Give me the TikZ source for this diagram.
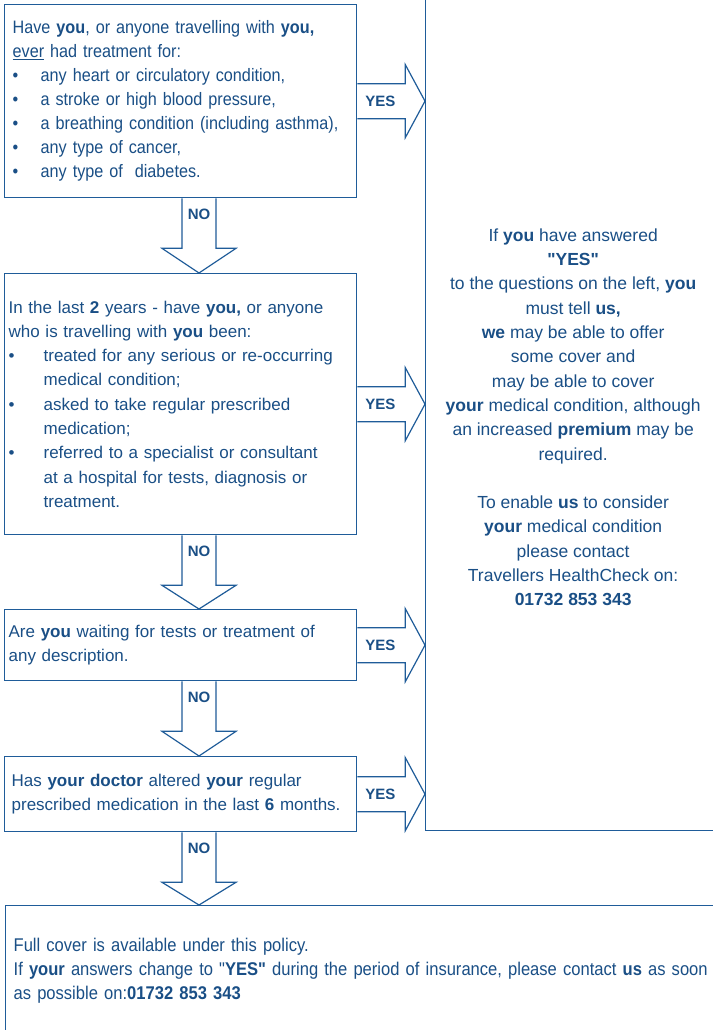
\documentclass[tikz,border=0pt]{standalone}
\usepackage{fontspec}
\setmainfont{Liberation Sans}[Ligatures=TeXOff]
\newfontfamily\narrowsans{Liberation Sans}[FakeStretch=0.9,Ligatures=TeXOff]
\usepackage{xcolor}
\usepackage{tikz}
\usetikzlibrary{calc}
\definecolor{checkBlue}{HTML}{1F5C99}
\definecolor{checkText}{HTML}{1A4F86}
\newcommand{\bitem}[2][28bp]{\makebox[#1][l]{\textbullet}\mbox{#2}}

\begin{document}
\begin{tikzpicture}[x=1bp,y=-1bp,
    question/.style={rectangle,draw=checkBlue,line width=1.3bp,anchor=north west,
                     minimum width=352bp,inner xsep=4bp,text width=344bp,align=left,
                     text=checkText,font=\fontsize{17bp}{24.3bp}\selectfont},
    answer/.style={rectangle,draw=checkBlue,line width=1.3bp,anchor=north west,
                   align=center,text=checkText,font=\fontsize{17.5bp}{24.3bp}\selectfont},
    blockarrow/.style={draw=checkBlue,line width=1.2bp,line join=miter},
    arrowlabel/.style={text=checkText,inner sep=0pt,font=\fontsize{15bp}{18bp}\selectfont\bfseries}
]
    \useasboundingbox[fill=white] (0,0) rectangle (713,1030);

    % Questions
    \node[question,minimum height=193bp,inner xsep=8bp,text width=336bp,
          font=\narrowsans\fontsize{18bp}{24bp}\selectfont] (heart) at (4,4) {
        \mbox{Have \textbf{you}, or anyone travelling with \textbf{you,}}\\
        \underline{ever} had treatment for:\\
        \bitem{any heart or circulatory condition,}\\
        \bitem{a stroke or high blood pressure,}\\
        \bitem{a breathing condition (including asthma),}\\
        \bitem{any type of cancer,}\\
        \bitem{any type of\ \ diabetes.}
    };
    \node[question,minimum height=261bp] (recent) at (4,273) {
        In the last \textbf{2} years - have \textbf{you,} or anyone\\
        who is travelling with \textbf{you} been:\\
        \bitem[35bp]{treated for any serious or re-occurring}\\
        \hspace*{35bp}medical condition;\\
        \bitem[35bp]{asked to take regular prescribed}\\
        \hspace*{35bp}medication;\\
        \bitem[35bp]{referred to a specialist or consultant}\\
        \hspace*{35bp}at a hospital for tests, diagnosis or\\
        \hspace*{35bp}treatment.
    };
    \node[question,minimum height=71bp] (waiting) at (4,609) {
        Are \textbf{you} waiting for tests or treatment of\\
        any description.
    };
    \node[question,minimum height=75bp,inner xsep=7bp,text width=338bp] (doctor) at (4,756) {
        Has \textbf{your doctor} altered \textbf{your} regular\\
        \mbox{prescribed medication in the last \textbf{6} months.}
    };

    % Answers
    \node[answer,minimum width=295bp,minimum height=835bp] (advice) at (425,-5) {
        \rule{0pt}{21bp}If \textbf{you} have answered\\
        \textbf{"YES"}\\
        to the questions on the left, \textbf{you}\\
        must tell \textbf{us,}\\
        \textbf{we} may be able to offer\\
        some cover and\\
        may be able to cover\\
        \textbf{your} medical condition, although\\
        an increased \textbf{premium} may be\\
        required.\\[24.3bp]
        To enable \textbf{us} to consider\\
        \textbf{your} medical condition\\
        please contact\\
        Travellers HealthCheck on:\\
        \textbf{01732 853 343}
    };
    \node[answer,minimum width=715bp,minimum height=130bp,align=left,inner xsep=8bp,
          text width=699bp,font=\narrowsans\fontsize{18.4bp}{24bp}\selectfont] (fullcover) at (5,905) {
        Full cover is available under this policy.\\
        \mbox{If \textbf{your} answers change to "\textbf{YES"} during the period of insurance, please contact \textbf{us} as soon}\\
        as possible on:\textbf{01732 853 343}
    };

    % YES arrows
    \draw[blockarrow] ($(heart.east)+(0,-17.5)$) -- ++(48,0) -- ++(0,-19) -- (advice.west |- heart.east)
        -- ($(heart.east)+(48,36.5)$) -- ++(0,-19) -- ++(-48,0);
    \node[arrowlabel] (yes1) at ($(heart.east)+(23,0)$) {YES};
    \draw[blockarrow] ($(recent.east)+(0,-17.5)$) -- ++(48,0) -- ++(0,-19) -- (advice.west |- recent.east)
        -- ($(recent.east)+(48,36.5)$) -- ++(0,-19) -- ++(-48,0);
    \node[arrowlabel] (yes2) at ($(recent.east)+(23,0)$) {YES};
    \draw[blockarrow] ($(waiting.east)+(0,-17.5)$) -- ++(48,0) -- ++(0,-19) -- (advice.west |- waiting.east)
        -- ($(waiting.east)+(48,36.5)$) -- ++(0,-19) -- ++(-48,0);
    \node[arrowlabel] (yes3) at ($(waiting.east)+(23,0)$) {YES};
    \draw[blockarrow] ($(doctor.east)+(0,-17.5)$) -- ++(48,0) -- ++(0,-19) -- (advice.west |- doctor.east)
        -- ($(doctor.east)+(48,36.5)$) -- ++(0,-19) -- ++(-48,0);
    \node[arrowlabel] (yes4) at ($(doctor.east)+(23,0)$) {YES};

    % NO arrows
    \draw[blockarrow] ($(heart.south west)+(178,0)$) -- ++(0,50) -- ++(-20,0) -- ($(recent.north west)+(195,0)$)
        -- ($(heart.south west)+(232,50)$) -- ++(-20,0) -- ++(0,-50);
    \node[arrowlabel] (no1) at ($(heart.south west)+(195,16)$) {NO};
    \draw[blockarrow] ($(recent.south west)+(178,0)$) -- ++(0,50) -- ++(-20,0) -- ($(waiting.north west)+(195,0)$)
        -- ($(recent.south west)+(232,50)$) -- ++(-20,0) -- ++(0,-50);
    \node[arrowlabel] (no2) at ($(recent.south west)+(195,16)$) {NO};
    \draw[blockarrow] ($(waiting.south west)+(178,0)$) -- ++(0,50) -- ++(-20,0) -- ($(doctor.north west)+(195,0)$)
        -- ($(waiting.south west)+(232,50)$) -- ++(-20,0) -- ++(0,-50);
    \node[arrowlabel] (no3) at ($(waiting.south west)+(195,16)$) {NO};
    \draw[blockarrow] ($(doctor.south west)+(178,0)$) -- ++(0,50) -- ++(-20,0) -- ($(fullcover.north west)+(194,0)$)
        -- ($(doctor.south west)+(232,50)$) -- ++(-20,0) -- ++(0,-50);
    \node[arrowlabel] (no4) at ($(doctor.south west)+(195,16)$) {NO};
\end{tikzpicture}
\end{document}
